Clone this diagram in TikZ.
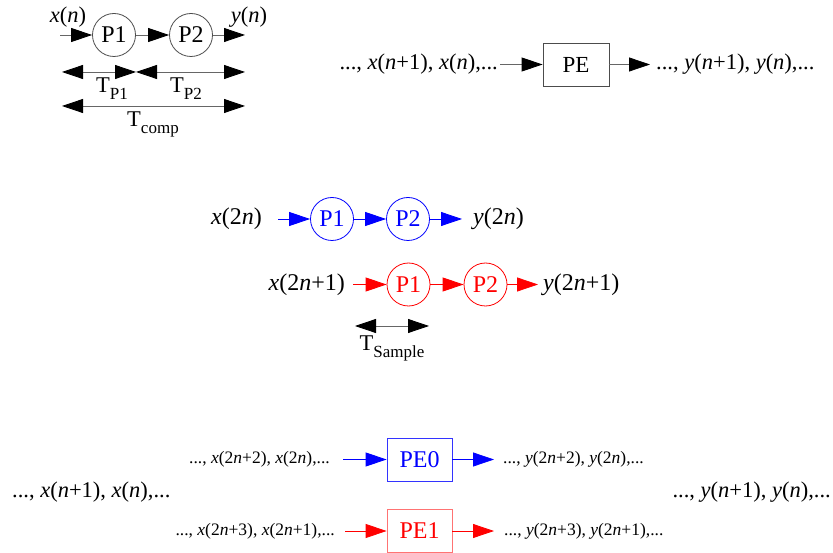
\documentclass[tikz,border=0pt]{standalone}
\usepackage{fontspec}
\setmainfont{Liberation Serif}
\usetikzlibrary{arrows.meta}
\newcommand\iv[1]{\textit{#1}}
\newcommand\Tsub[1]{T\raisebox{-7pt}{\fontsize{17}{17}\selectfont #1}}
\begin{document}
\begin{tikzpicture}[x=1pt,y=-1pt,
  every node/.style={inner sep=0pt},
  lbl/.style={font=\fontsize{22.5}{26}\selectfont},
  mid/.style={font=\fontsize{24}{26}\selectfont},
  small/.style={font=\fontsize{17.5}{20}\selectfont},
  proc/.style={circle, draw=black!70, line width=0.8pt, minimum size=43pt, font=\fontsize{24}{26}\selectfont},
  pebox/.style={draw=black!70, line width=0.8pt, minimum width=66pt, minimum height=43pt, font=\fontsize{23}{26}\selectfont},
  arr/.style={-{Triangle[length=21pt,width=14pt,color=black]}, draw=black!60, line width=0.8pt},
  darr/.style={{Triangle[length=21pt,width=14pt,color=black]}-{Triangle[length=21pt,width=14pt,color=black]}, draw=black!60, line width=0.8pt},
  barr/.style={-{Triangle[length=21pt,width=14pt]}, draw=blue, line width=0.8pt},
  rarr/.style={-{Triangle[length=21pt,width=14pt]}, draw=red, line width=0.8pt},
]
\useasboundingbox (0,0) rectangle (833,553);

% ---- top left pipeline
\node[proc] (p1) at (114,35) {P1};
\node[proc] (p2) at (191,35) {P2};
\coordinate (xin) at (60,35);
\coordinate (yout) at (245,35);
\draw[arr] (xin) -- (p1);
\draw[arr] (p1) -- (p2);
\draw[arr] (p2) -- (yout);
\node[lbl] (xn) at (68,17) {\iv{x}(\iv{n})};
\node[lbl] (yn) at (249,17) {\iv{y}(\iv{n})};
\coordinate (d1a) at (62,72);
\coordinate (d1b) at (136,72);
\coordinate (d1c) at (245,72);
\draw[darr] (d1a) -- (d1b);
\draw[darr] (d1b) -- (d1c);
\node[lbl] (tp1) at (112,89) {\Tsub{P1}};
\node[lbl] (tp2) at (186,89) {\Tsub{P2}};
\coordinate (d2a) at (62,106);
\coordinate (d2b) at (245,106);
\draw[darr] (d2a) -- (d2b);
\node[lbl] (tcomp) at (153,124) {\Tsub{comp}};

% ---- top right PE
\node[pebox] (pe) at (576,64.5) {PE};
\node[lbl, anchor=east] (xs) at (498,64.5) {..., \iv{x}(\iv{n}+1), \iv{x}(\iv{n}),...};
\node[lbl, anchor=west] (ys) at (656,64.5) {..., \iv{y}(\iv{n}+1), \iv{y}(\iv{n}),...};
\draw[arr, shorten <=2pt] (xs) -- (pe);
\draw[arr, shorten >=6pt] (pe) -- (ys);

% ---- middle blue
\node[proc, draw=blue, text=blue] (bp1) at (332,219) {P1};
\node[proc, draw=blue, text=blue] (bp2) at (408,219) {P2};
\node[mid, anchor=east] (x2n) at (262,219) {\iv{x}(2\iv{n})};
\node[mid, anchor=west] (y2n) at (473,219) {\iv{y}(2\iv{n})};
\draw[barr, shorten <=16pt] (x2n) -- (bp1);
\draw[barr] (bp1) -- (bp2);
\draw[barr, shorten >=11pt] (bp2) -- (y2n);

% ---- middle red
\node[proc, draw=red, text=red] (rp1) at (408.5,284.5) {P1};
\node[proc, draw=red, text=red] (rp2) at (485.5,284.5) {P2};
\node[mid, anchor=east] (x2n1) at (345,284.5) {\iv{x}(2\iv{n}+1)};
\node[mid, anchor=west] (y2n1) at (543,284.5) {\iv{y}(2\iv{n}+1)};
\draw[rarr, shorten <=8pt] (x2n1) -- (rp1);
\draw[rarr] (rp1) -- (rp2);
\draw[rarr, shorten >=5pt] (rp2) -- (y2n1);

\coordinate (tsa) at (355,326);
\coordinate (tsb) at (429,326);
\draw[darr] (tsa) -- (tsb);
\node[lbl] (tsam) at (392,348) {\Tsub{Sample}};

% ---- bottom
\node[pebox, draw=blue!80, text=blue, minimum width=65pt, font=\fontsize{24}{26}\selectfont] (pe0) at (419.5,459.5) {PE0};
\node[pebox, draw=red!55, text=red, minimum width=65pt, font=\fontsize{24}{26}\selectfont] (pe1) at (419.5,531) {PE1};
\node[small, anchor=east] (xe) at (330,459.5) {..., \iv{x}(2\iv{n}+2), \iv{x}(2\iv{n}),...};
\node[small, anchor=west] (ye) at (503,459.5) {..., \iv{y}(2\iv{n}+2), \iv{y}(2\iv{n}),...};
\node[small, anchor=east] (xo) at (335,531) {..., \iv{x}(2\iv{n}+3), \iv{x}(2\iv{n}+1),...};
\node[small, anchor=west] (yo) at (504,531) {..., \iv{y}(2\iv{n}+3), \iv{y}(2\iv{n}+1),...};
\draw[barr, shorten <=13pt] (xe) -- (pe0);
\draw[barr, shorten >=9pt] (pe0) -- (ye);
\draw[rarr, shorten <=10pt] (xo) -- (pe1);
\draw[rarr, shorten >=10pt] (pe1) -- (yo);
\node[lbl, anchor=west] (xall) at (12,492) {..., \iv{x}(\iv{n}+1), \iv{x}(\iv{n}),...};
\node[lbl, anchor=east] (yall) at (831,492) {..., \iv{y}(\iv{n}+1), \iv{y}(\iv{n}),...};
\end{tikzpicture}
\end{document}
